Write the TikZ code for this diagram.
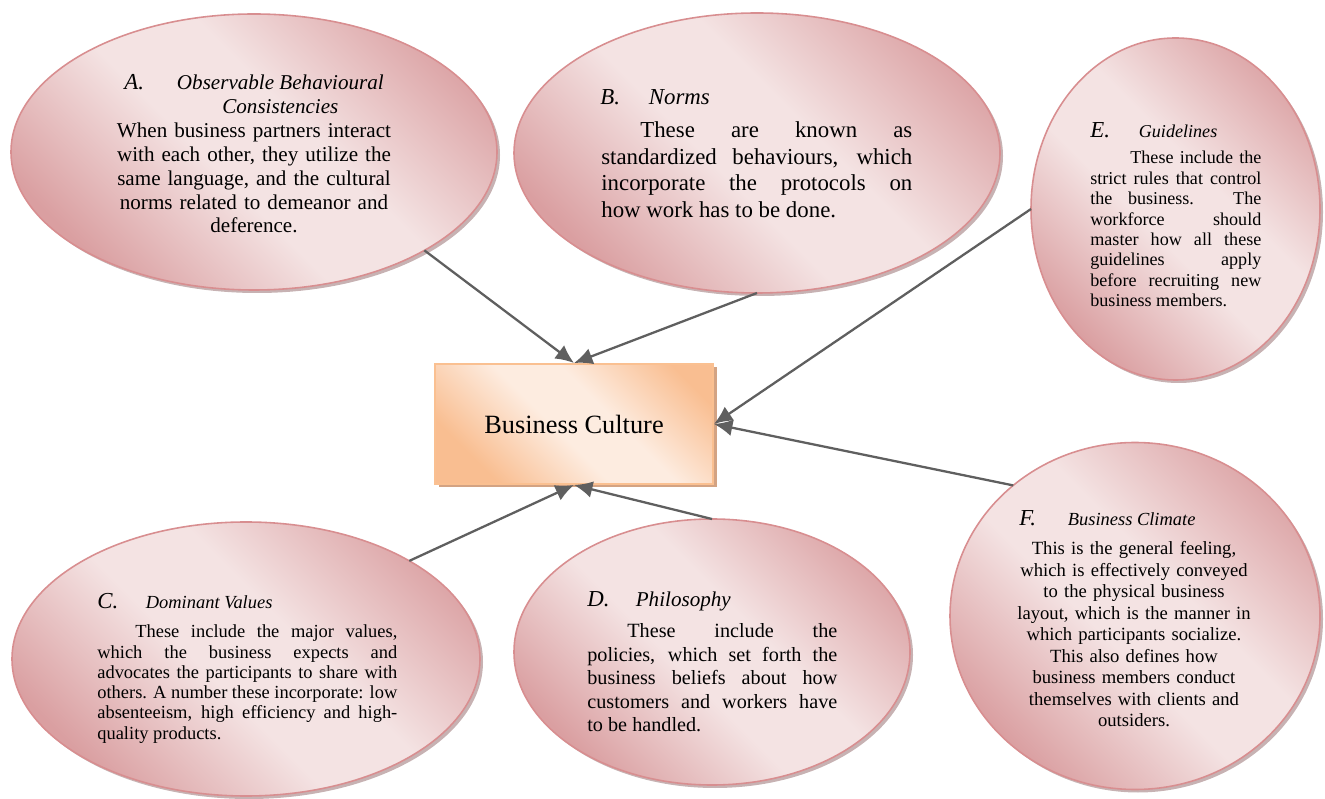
\documentclass[tikz,border=0pt]{standalone}
\usepackage{fontspec}
\setmainfont{Liberation Serif}
\usepackage{tikz}
\usetikzlibrary{shapes.geometric}
\usetikzlibrary{arrows,arrows.meta}
\usetikzlibrary{shadows}

\definecolor{bubbledark}{HTML}{DA9FA1}
\definecolor{bubblelight}{HTML}{F4E3E3}
\definecolor{bubbleedge}{HTML}{D88E90}
\definecolor{boxdark}{HTML}{F9BE91}
\definecolor{boxlight}{HTML}{FDECE0}
\definecolor{boxedge}{HTML}{FAC091}
\definecolor{boxshadow}{HTML}{D3A383}
\definecolor{conngray}{HTML}{5F5F5F}

\pgfdeclarehorizontalshading{bubbleshade}{100bp}{color(0bp)=(bubbledark); color(25bp)=(bubbledark); color(45bp)=(bubblelight); color(57bp)=(bubblelight); color(78bp)=(bubbledark); color(100bp)=(bubbledark)}
\pgfdeclarehorizontalshading{boxshade}{100bp}{color(0bp)=(boxdark); color(26bp)=(boxdark); color(46bp)=(boxlight); color(58bp)=(boxlight); color(78bp)=(boxdark); color(100bp)=(boxdark)}

\newcommand{\itemletter}[1]{\makebox[0.97cm][l]{\fontsize{13}{15}\selectfont\itshape #1}}

\tikzset{
  bubble/.style={ellipse, draw=bubbleedge, line width=0.9pt, inner sep=0pt, outer sep=0pt, shading=bubbleshade, shading angle=45, drop shadow={shadow xshift=0.06cm, shadow yshift=-0.06cm, fill=bubbleedge!60!black, opacity=0.45}},
  cultbox/.style={rectangle, draw=boxedge, line width=1.1pt, shading=boxshade, shading angle=45, minimum width=5.56cm, minimum height=2.4cm, font=\fontsize{15}{18}\selectfont, drop shadow={shadow xshift=0.07cm, shadow yshift=-0.07cm, fill=boxshadow, opacity=1}},
  bubblehead/.style={inner sep=0pt, anchor=base west},
  bubbletext/.style={inner sep=0pt, anchor=base west, align=justify},
  conn/.style={draw=conngray, line width=1.3pt, -{Latex[length=10.5pt, width=9.5pt]}},
}

\begin{document}
\begin{tikzpicture}
  \useasboundingbox (0, 0) rectangle (26.5, 15.96);
  % Bubbles and the box:
  \node[bubble, minimum width=9.72cm, minimum height=5.52cm] (A) at (5.08, 12.92){};
  \node[bubble, minimum width=9.72cm, minimum height=5.6cm] (B) at (15.14, 12.9){};
  \node[bubble, minimum width=5.78cm, minimum height=6.84cm] (E) at (23.51, 11.78){};
  \node[bubble, minimum width=9.36cm, minimum height=5.48cm] (C) at (4.92, 2.78){};
  \node[bubble, minimum width=7.92cm, minimum height=5.32cm] (D) at (14.24, 2.92){};
  \node[bubble, minimum width=7.4cm, minimum height=6.94cm] (F) at (22.7, 3.64){};
  \node[cultbox] (BC) at (11.48, 7.48){Business Culture};
  % Texts in the bubbles:
  \node[bubblehead, font=\fontsize{12}{13.5}\selectfont\itshape] (A-head) at (2.48, 14.16){\itemletter{A.}\parbox[t]{4.3cm}{\centering Observable Behavioural\\Consistencies}};
  \node[bubbletext, anchor=base, align=center, text width=6cm, font=\fontsize{12}{13.5}\selectfont] (A-text) at (5.08, 13.2){When business partners interact\\with each other, they utilize the\\same language, and the cultural\\norms related to demeanor and\\deference.};
  \node[bubblehead, font=\fontsize{13}{15}\selectfont\itshape] (B-head) at (12.0, 13.86){\itemletter{B.}Norms};
  \node[bubbletext, text width=6.22cm, font=\fontsize{13}{15}\selectfont] (B-text) at (12.02, 13.2){\hspace*{0.78cm}These are known as\linebreak standardized behaviours, which\linebreak incorporate the protocols on\linebreak how work has to be done.};
  \node[bubblehead, font=\fontsize{10.3}{12}\selectfont\itshape] (E-head) at (21.8, 13.2){\itemletter{E.}Guidelines};
  \node[bubbletext, text width=3.42cm, font=\fontsize{10.3}{11.6}\selectfont] (E-text) at (21.8, 12.68){\hspace*{0.8cm}These include the\linebreak strict rules that control\linebreak the business. The\linebreak workforce should\linebreak master how all these\linebreak guidelines apply\linebreak before recruiting new\linebreak business members.};
  \node[bubblehead, font=\fontsize{10.5}{12}\selectfont\itshape] (C-head) at (1.94, 3.78){\itemletter{C.}Dominant Values};
  \node[bubbletext, text width=6cm, font=\fontsize{10.5}{11.5}\selectfont] (C-text) at (1.94, 3.2){\hspace*{0.76cm}These include the major values,\linebreak which the business expects and\linebreak advocates the participants to share with\linebreak others. A number these incorporate: low\linebreak absenteeism, high efficiency and high-\linebreak quality products.};
  \node[bubblehead, font=\fontsize{12}{13.5}\selectfont\itshape] (D-head) at (11.74, 3.82){\itemletter{D.}Philosophy};
  \node[bubbletext, text width=5cm, font=\fontsize{11.5}{13.3}\selectfont] (D-text) at (11.74, 3.2){\hspace*{0.8cm}These include the\linebreak policies, which set forth the\linebreak business beliefs about how\linebreak customers and workers have\linebreak to be handled.};
  \node[bubblehead, font=\fontsize{10.5}{12}\selectfont\itshape] (F-head) at (20.38, 5.44){\itemletter{F.}Business Climate};
  \node[bubbletext, anchor=base, align=center, text width=4.8cm, font=\fontsize{10.6}{12.2}\selectfont] (F-text) at (22.68, 4.86){This is the general feeling,\\which is effectively conveyed\\to the physical business\\layout, which is the manner in\\which participants socialize.\\This also defines how\\business members conduct\\themselves with clients and\\outsiders.};
  % Arrows into the box:
  \draw[conn] (A.-30) -- (BC.north);
  \draw[conn] (B.south) -- (BC.north);
  \draw[conn] (E.west) -- (BC.east);
  \draw[conn] (F.133) -- (BC.east);
  \draw[conn] (C.31) -- (BC.south);
  \draw[conn] (D.north) -- (BC.south);
\end{tikzpicture}
\end{document}
